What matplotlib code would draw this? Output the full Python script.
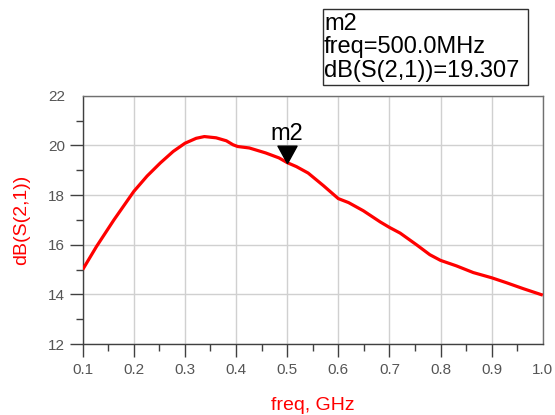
import numpy as np
import matplotlib
matplotlib.use("Agg")
import matplotlib.pyplot as plt
from matplotlib.path import Path
from matplotlib.patches import Rectangle

plt.rcParams['font.family'] = ['Liberation Sans', 'DejaVu Sans']

# S21 sweep
freq_ghz = [0.100, 0.127, 0.161, 0.200, 0.226, 0.252, 0.277, 0.300, 0.322, 0.338,
            0.361, 0.381, 0.394, 0.403, 0.426, 0.458, 0.484, 0.500, 0.518, 0.541,
            0.571, 0.600, 0.620, 0.649, 0.682, 0.700, 0.721, 0.753, 0.779, 0.800,
            0.831, 0.864, 0.900, 0.929, 0.962, 1.000]
s21_db = [15.00, 15.93, 17.00, 18.15, 18.77, 19.30, 19.76, 20.09, 20.29, 20.36,
          20.31, 20.19, 20.03, 19.96, 19.90, 19.70, 19.50, 19.31, 19.15, 18.89,
          18.38, 17.86, 17.70, 17.37, 16.92, 16.70, 16.47, 16.00, 15.60, 15.37,
          15.15, 14.88, 14.67, 14.47, 14.23, 13.97]

marker_name = "m2"
marker_freq = 0.5
marker_val = 19.307

xticks = np.round(np.arange(0.1, 1.01, 0.1), 1)
yticks = [12, 14, 16, 18, 20, 22]

fig = plt.figure(figsize=(5.55, 4.15), dpi=100)
ax = fig.add_axes([0.149, 0.171, 0.829, 0.598])

ax.plot(freq_ghz, s21_db, color='#ff0000', lw=2.3, solid_joinstyle='round',
        solid_capstyle='butt', zorder=3)

# marker triangle with its tip sitting on the trace
tri = Path([(-0.55, 1.0), (0.55, 1.0), (0.0, 0.0), (-0.55, 1.0)],
           [Path.MOVETO, Path.LINETO, Path.LINETO, Path.CLOSEPOLY])
ax.plot([marker_freq], [marker_val], marker=tri, markersize=25, color='black',
        linestyle='none', zorder=4)
ax.annotate(marker_name, (marker_freq, marker_val), xytext=(0, 16),
            textcoords='offset points', ha='center', va='baseline', fontsize=17,
            color='black')

ax.set_xlim(0.1, 1.0)
ax.set_ylim(12, 22)
ax.set_xticks(xticks)
ax.set_xticklabels([f"{v:.1f}" for v in xticks])
ax.set_xticks(np.arange(0.15, 1.0, 0.1), minor=True)
ax.set_yticks(yticks)
ax.set_yticks([13, 15, 17, 19, 21], minor=True)
# no tick marks at the far corners (22 and 1.0)
ax.yaxis.get_major_ticks()[-1].tick1line.set_visible(False)
ax.xaxis.get_major_ticks()[-1].tick1line.set_visible(False)

ax.grid(True, which='major', color='#d0d0d0', lw=1.0)
ax.set_axisbelow(True)
for side, s in ax.spines.items():
    s.set_color('#404040' if side in ('left', 'bottom') else '#707070')
    s.set_linewidth(1.0)

ax.tick_params(axis='both', which='major', length=9.7, width=1, color='#404040',
               labelsize=11, labelcolor='#555555')
ax.tick_params(axis='both', which='minor', length=5, width=1, color='#404040')
ax.tick_params(axis='x', which='major', pad=4)
ax.tick_params(axis='y', which='major', pad=3)

ax.set_xlabel("freq, GHz", color='#ff0000', fontsize=14, va='center')
ax.set_ylabel("dB(S(2,1))", color='#ff0000', fontsize=14, va='center')
ax.xaxis.set_label_coords(0.5, -0.246)
ax.yaxis.set_label_coords(-0.132, 0.5)

# marker readout box
box_l, box_r = 322.7 / 555, 528.3 / 555
box_t, box_b = 1 - 9.3 / 415, 1 - 85 / 415
fig.patches.append(Rectangle((box_l, box_b), box_r - box_l, box_t - box_b,
                             transform=fig.transFigure, facecolor='white',
                             edgecolor='#303030', lw=1.0))
lines = [marker_name, f"freq={marker_freq * 1000:.1f}MHz", f"dB(S(2,1))={marker_val:.3f}"]
for i, txt in enumerate(lines):
    fig.text(324 / 555, 1 - (29.5 + 24 * i) / 415, txt, ha='left', va='baseline',
             fontsize=17, color='black')

fig.savefig("out.png", dpi=100)
